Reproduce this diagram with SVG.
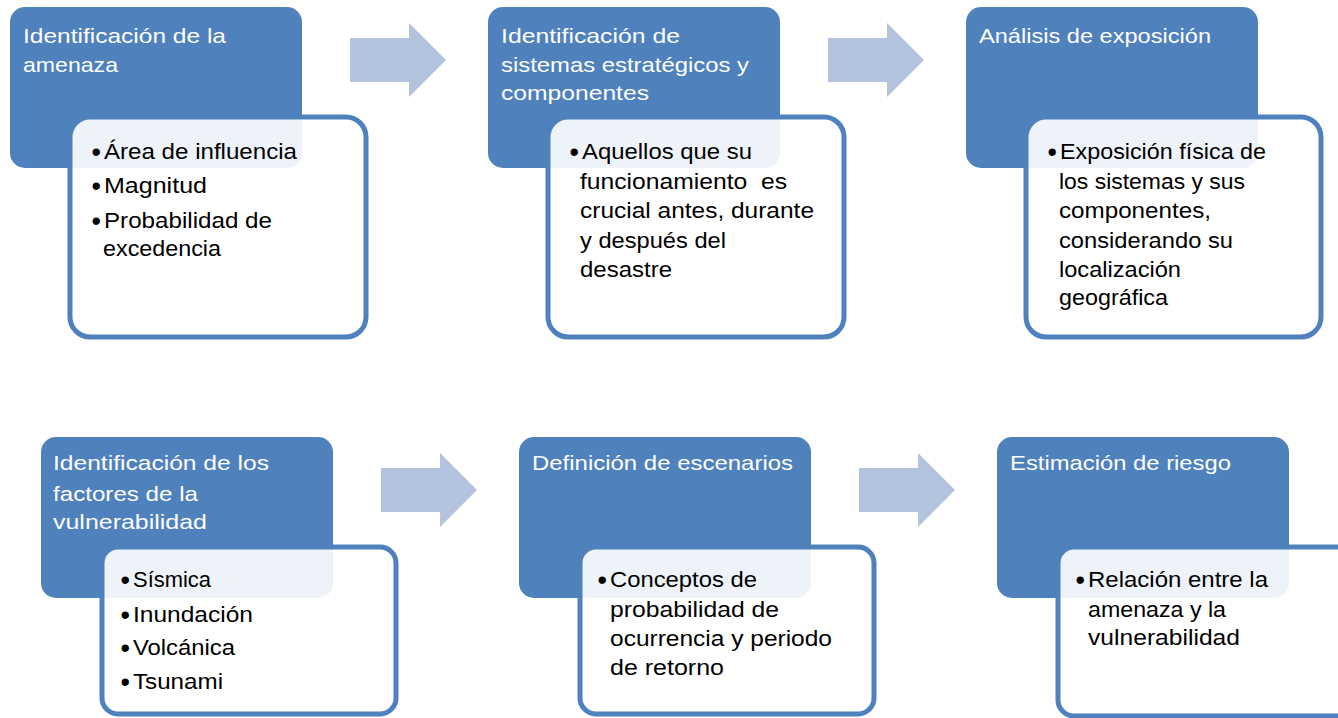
<svg xmlns="http://www.w3.org/2000/svg" width="1338" height="718" viewBox="0 0 1338 718">
<style>
.blue{fill:#4f81bd}
.card{fill:#ffffff;fill-opacity:0.9;stroke:#4f81bd;stroke-width:5}
.arrow{fill:#b3c3de}
.t{font-family:"Liberation Sans",Arial,sans-serif;font-size:21px;fill:#ffffff}
.b{font-family:"Liberation Sans",Arial,sans-serif;font-size:22px;fill:#000000}
.d{font-family:"Liberation Sans",Arial,sans-serif;font-size:27px;fill:#000000}
</style>
<rect width="1338" height="718" fill="#ffffff"/>
<g id="connectors">
<path class="arrow" d="M350,38 H409 V23 L446,60 L409,97 V82 H350 Z"/>
<path class="arrow" d="M828,38 H887 V23 L924,60 L887,97 V82 H828 Z"/>
<path class="arrow" d="M381,468 H440 V453 L477,490 L440,527 V512 H381 Z"/>
<path class="arrow" d="M859,468 H918 V453 L955,490 L918,527 V512 H859 Z"/>
</g>
<g id="node1">
<rect class="blue" x="10" y="7" width="292" height="161" rx="15"/>
<rect class="card" x="70" y="117" width="296" height="220" rx="20"/>
<text class="t" x="23" y="43" textLength="203" lengthAdjust="spacingAndGlyphs">Identificación de la</text>
<text class="t" x="23" y="72" textLength="95" lengthAdjust="spacingAndGlyphs">amenaza</text>
<text class="d" x="91.5" y="161">•</text>
<text class="b" x="104" y="159" textLength="193" lengthAdjust="spacingAndGlyphs">Área de influencia</text>
<text class="d" x="91.5" y="195">•</text>
<text class="b" x="104" y="193" textLength="103" lengthAdjust="spacingAndGlyphs">Magnitud</text>
<text class="d" x="91.5" y="230">•</text>
<text class="b" x="104" y="228" textLength="168" lengthAdjust="spacingAndGlyphs">Probabilidad de</text>
<text class="b" x="103" y="256" textLength="118" lengthAdjust="spacingAndGlyphs">excedencia</text>
</g>
<g id="node2">
<rect class="blue" x="488" y="7" width="292" height="161" rx="15"/>
<rect class="card" x="548" y="117" width="296" height="220" rx="20"/>
<text class="t" x="501" y="43" textLength="179" lengthAdjust="spacingAndGlyphs">Identificación de</text>
<text class="t" x="501" y="72" textLength="248" lengthAdjust="spacingAndGlyphs">sistemas estratégicos y</text>
<text class="t" x="501" y="100" textLength="148" lengthAdjust="spacingAndGlyphs">componentes</text>
<text class="d" x="569.5" y="161">•</text>
<text class="b" x="582" y="159" textLength="170" lengthAdjust="spacingAndGlyphs">Aquellos que su</text>
<text class="b" x="580" y="189" textLength="207" lengthAdjust="spacingAndGlyphs">funcionamiento&#160; es</text>
<text class="b" x="580" y="218" textLength="234" lengthAdjust="spacingAndGlyphs">crucial antes, durante</text>
<text class="b" x="580" y="248" textLength="146" lengthAdjust="spacingAndGlyphs">y después del</text>
<text class="b" x="580" y="277" textLength="92" lengthAdjust="spacingAndGlyphs">desastre</text>
</g>
<g id="node3">
<rect class="blue" x="966" y="7" width="292" height="161" rx="15"/>
<rect class="card" x="1026" y="117" width="295" height="220" rx="20"/>
<text class="t" x="979" y="43" textLength="232" lengthAdjust="spacingAndGlyphs">Análisis de exposición</text>
<text class="d" x="1047.5" y="161">•</text>
<text class="b" x="1060" y="159" textLength="206" lengthAdjust="spacingAndGlyphs">Exposición física de</text>
<text class="b" x="1059" y="189" textLength="186" lengthAdjust="spacingAndGlyphs">los sistemas y sus</text>
<text class="b" x="1059" y="218" textLength="152" lengthAdjust="spacingAndGlyphs">componentes,</text>
<text class="b" x="1059" y="248" textLength="174" lengthAdjust="spacingAndGlyphs">considerando su</text>
<text class="b" x="1059" y="277" textLength="122" lengthAdjust="spacingAndGlyphs">localización</text>
<text class="b" x="1059" y="305" textLength="109" lengthAdjust="spacingAndGlyphs">geográfica</text>
</g>
<g id="node4">
<rect class="blue" x="41" y="437" width="292" height="161" rx="15"/>
<rect class="card" x="102" y="547" width="294" height="167" rx="16"/>
<text class="t" x="53" y="470" textLength="216" lengthAdjust="spacingAndGlyphs">Identificación de los</text>
<text class="t" x="53" y="501" textLength="145" lengthAdjust="spacingAndGlyphs">factores de la</text>
<text class="t" x="53" y="529" textLength="154" lengthAdjust="spacingAndGlyphs">vulnerabilidad</text>
<text class="d" x="120.5" y="589">•</text>
<text class="b" x="133" y="587" textLength="78" lengthAdjust="spacingAndGlyphs">Sísmica</text>
<text class="d" x="120.5" y="624">•</text>
<text class="b" x="133" y="622" textLength="120" lengthAdjust="spacingAndGlyphs">Inundación</text>
<text class="d" x="120.5" y="657">•</text>
<text class="b" x="133" y="655" textLength="102" lengthAdjust="spacingAndGlyphs">Volcánica</text>
<text class="d" x="120.5" y="691">•</text>
<text class="b" x="133" y="689" textLength="90" lengthAdjust="spacingAndGlyphs">Tsunami</text>
</g>
<g id="node5">
<rect class="blue" x="519" y="437" width="292" height="161" rx="15"/>
<rect class="card" x="580" y="547" width="294" height="167" rx="16"/>
<text class="t" x="532" y="470" textLength="261" lengthAdjust="spacingAndGlyphs">Definición de escenarios</text>
<text class="d" x="597.5" y="589">•</text>
<text class="b" x="610" y="587" textLength="147" lengthAdjust="spacingAndGlyphs">Conceptos de</text>
<text class="b" x="610" y="617" textLength="169" lengthAdjust="spacingAndGlyphs">probabilidad de</text>
<text class="b" x="610" y="646" textLength="222" lengthAdjust="spacingAndGlyphs">ocurrencia y periodo</text>
<text class="b" x="610" y="675" textLength="114" lengthAdjust="spacingAndGlyphs">de retorno</text>
</g>
<g id="node6">
<rect class="blue" x="997" y="437" width="292" height="161" rx="15"/>
<rect class="card" x="1058" y="547" width="296" height="169" rx="16"/>
<text class="t" x="1010" y="470" textLength="221" lengthAdjust="spacingAndGlyphs">Estimación de riesgo</text>
<text class="d" x="1075.5" y="589">•</text>
<text class="b" x="1088" y="587" textLength="180" lengthAdjust="spacingAndGlyphs">Relación entre la</text>
<text class="b" x="1088" y="617" textLength="138" lengthAdjust="spacingAndGlyphs">amenaza y la</text>
<text class="b" x="1088" y="645" textLength="152" lengthAdjust="spacingAndGlyphs">vulnerabilidad</text>
</g>
</svg>
